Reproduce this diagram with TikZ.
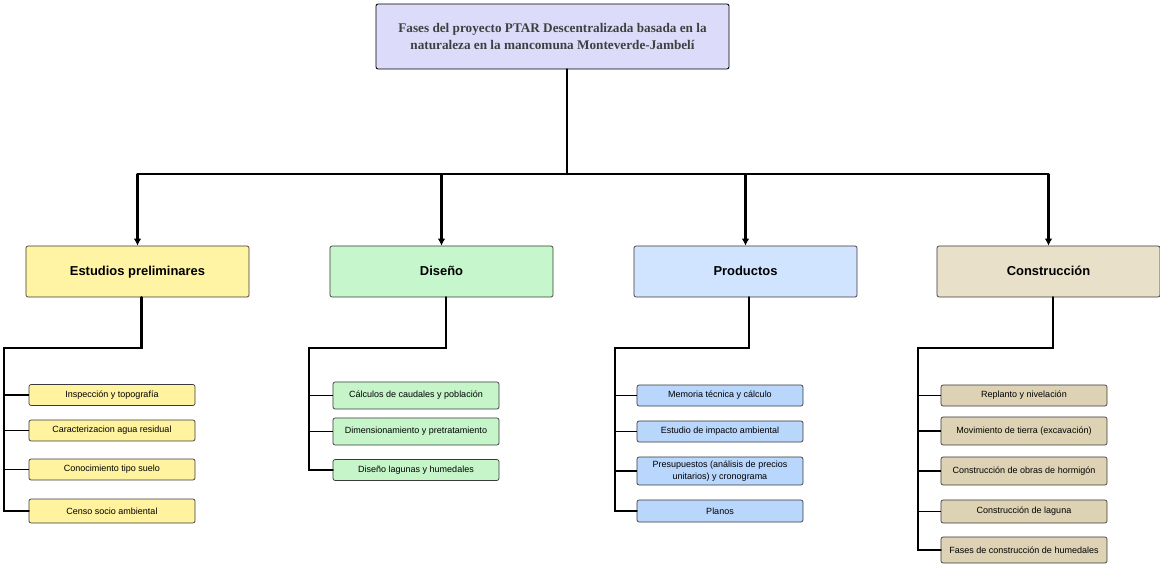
\documentclass[tikz,border=0pt]{standalone}
\usepackage{fontspec}
\setmainfont{Liberation Serif}
\setsansfont{Liberation Sans}
\usepackage{xcolor}
\usetikzlibrary{arrows.meta, positioning, calc}

\definecolor{titfill}{HTML}{DCDCFA}
\definecolor{ylwA}{HTML}{FFF4A3}
\definecolor{ylwB}{HTML}{FFF3A0}
\definecolor{grnA}{HTML}{C6F6CB}
\definecolor{grnB}{HTML}{C6F5CA}
\definecolor{bluA}{HTML}{D0E3FF}
\definecolor{bluB}{HTML}{B9D6FD}
\definecolor{begA}{HTML}{E8E0C8}
\definecolor{begB}{HTML}{DDD3B4}
\definecolor{edge}{HTML}{3A3A3A}

\begin{document}
\begin{tikzpicture}[
    x=0.025cm, y=-0.025cm,
    title/.style={draw=black, line width=0.6pt, rounded corners=1.5pt, fill=titfill,
                  minimum width=8.825cm, minimum height=1.625cm, align=center,
                  font=\rmfamily\bfseries\fontsize{9.4}{11.5}\selectfont, text=black!75},
    phase/.style={draw=edge, line width=0.5pt, rounded corners=1.5pt,
                  minimum width=5.575cm, minimum height=1.275cm, align=center,
                  text height=1.5ex, text depth=0.25ex,
                  font=\sffamily\bfseries\fontsize{9.2}{11}\selectfont},
    item/.style={draw=edge, line width=0.5pt, rounded corners=1.5pt,
                 minimum width=4.15cm, minimum height=0.525cm, align=center, inner sep=1pt,
                 font=\sffamily\fontsize{6.4}{8}\selectfont},
    tree/.style={line width=1.8pt, line cap=round},
    twig/.style={line width=1.4pt},
    arrow/.style={-{Latex[length=5pt, width=5.5pt]}},
]
\useasboundingbox (0,0) rectangle (1160,565);

% top
\node[title] (tit) at (552.5,36.5)
    {Fases del proyecto PTAR Descentralizada basada en la\\
     naturaleza en la mancomuna Monteverde-Jambelí};
\coordinate (hub) at (567,174);

% phases
\node[phase, fill=ylwA] (est) at (137.5,271.5) {Estudios preliminares};
\node[phase, fill=grnA] (dis) at (441.5,271.5) {Diseño};
\node[phase, fill=bluA] (pro) at (745.5,271.5) {Productos};
\node[phase, fill=begA] (con) at (1048.5,271.5) {Construcción};

\draw[tree] (tit.south -| hub) -- (hub);
\draw[tree] (est.north |- hub) -- (con.north |- hub);
\foreach \n in {est,dis,pro,con}
    \draw[tree, arrow, line cap=butt] (\n.north |- hub) -- (\n.north);

% Estudios preliminares
\node[item, fill=ylwB] (est1) at (112,395) {Inspección y topografía};
\node[item, fill=ylwB] (est2) at (112,430.5) {Caracterizacion agua residual};
\node[item, fill=ylwB] (est3) at (112,469.5) {Conocimiento tipo suelo};
\node[item, fill=ylwB, minimum height=0.6cm] (est4) at (112,511) {Censo socio ambiental};

% Diseño
\node[item, fill=grnB, minimum height=0.675cm] (dis1) at (416,395.5) {Cálculos de caudales y población};
\node[item, fill=grnB, minimum height=0.675cm] (dis2) at (416,431.5) {Dimensionamiento y pretratamiento};
\node[item, fill=grnB] (dis3) at (416,470) {Diseño lagunas y humedales};

% Productos
\node[item, fill=bluB] (pro1) at (720,395.5) {Memoria técnica y cálculo};
\node[item, fill=bluB] (pro2) at (720,431.5) {Estudio de impacto ambiental};
\node[item, fill=bluB, minimum height=0.7cm] (pro3) at (720,471)
    {Presupuestos (análisis de precios\\ unitarios) y cronograma};
\node[item, fill=bluB, minimum height=0.55cm] (pro4) at (720,511) {Planos};

% Construcción
\node[item, fill=begB] (con1) at (1024,395.5) {Replanto y nivelación};
\node[item, fill=begB, minimum height=0.7cm] (con2) at (1024,431) {Movimiento de tierra (excavación)};
\node[item, fill=begB, minimum height=0.7cm] (con3) at (1024,471) {Construcción de obras de hormigón};
\node[item, fill=begB, minimum height=0.575cm] (con4) at (1024,511.5) {Construcción de laguna};
\node[item, fill=begB, minimum height=0.65cm] (con5) at (1024,550) {Fases de construcción de humedales};

% branches
\coordinate (estk) at (4,348);
\coordinate (disk) at (309,348);
\coordinate (prok) at (615,348);
\coordinate (conk) at (918,348);

\draw[tree] ($(est.south)+(4,0)$) |- (estk) -- (estk |- est4.west) -- (est4.west);
\draw[tree] ($(dis.south)+(4.5,0)$) |- (disk) -- (disk |- dis3.west) -- (dis3.west);
\draw[tree] ($(pro.south)+(3.5,0)$) |- (prok) -- (prok |- pro4.west) -- (pro4.west);
\draw[tree] ($(con.south)+(4.5,0)$) |- (conk) -- (conk |- con5.west) -- (con5.west);

\foreach \i in {1,2,3}
    \draw[twig] (estk |- est\i.west) -- (est\i.west);
\foreach \i in {1,2}
    \draw[twig] (disk |- dis\i.west) -- (dis\i.west);
\foreach \i in {1,2,3}
    \draw[twig] (prok |- pro\i.west) -- (pro\i.west);
\foreach \i in {1,2,3,4}
    \draw[twig] (conk |- con\i.west) -- (con\i.west);

\end{tikzpicture}
\end{document}
